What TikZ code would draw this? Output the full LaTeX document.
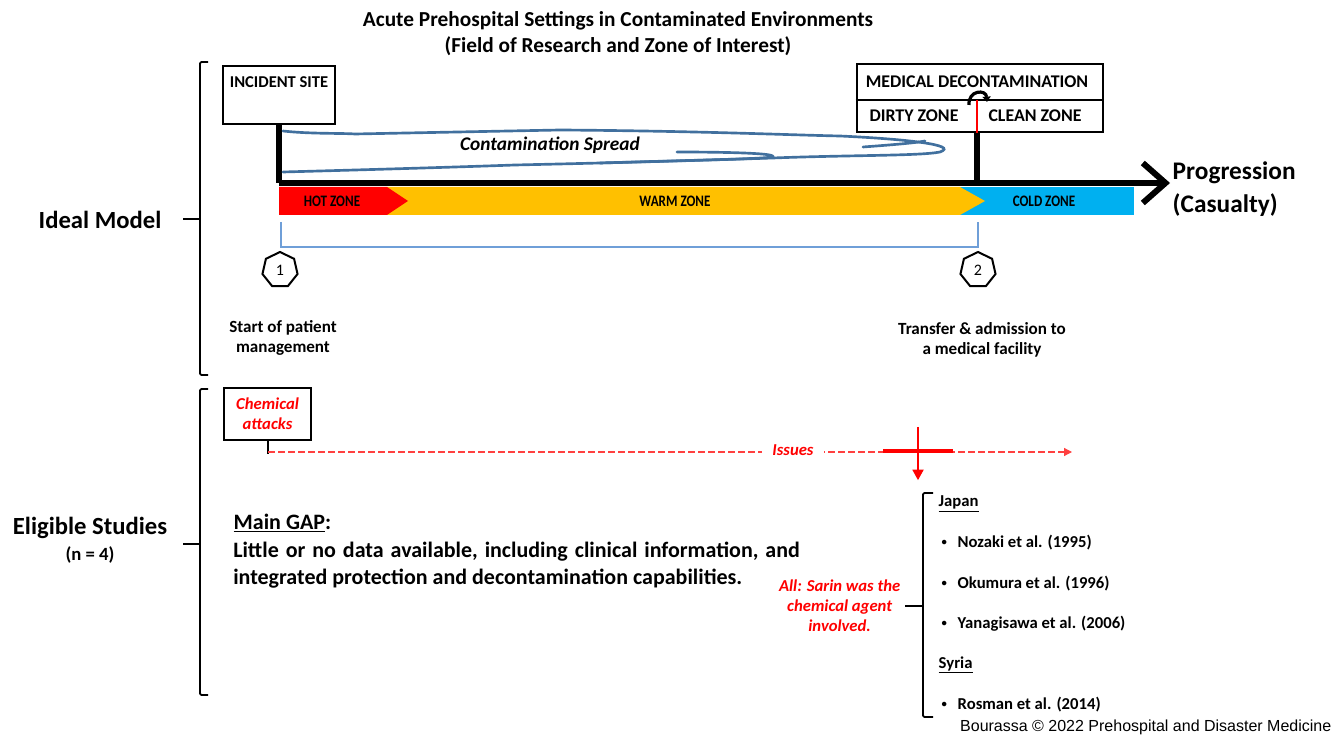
\documentclass[tikz,border=0pt]{standalone}
\usepackage{fontspec}
\setmainfont{Carlito}
\newfontfamily\arialfont{Liberation Sans}
\usetikzlibrary{arrows.meta,shapes.geometric,positioning}
\definecolor{hotred}{HTML}{FF0000}
\definecolor{warmorange}{HTML}{FFC000}
\definecolor{coldblue}{HTML}{00B0F0}
\definecolor{spreadblue}{HTML}{41709E}
\definecolor{spanblue}{HTML}{6F9FD8}
\newcommand\itembullet{\raisebox{1.5pt}{\fontsize{8}{9}\selectfont\textbullet}\hspace{8pt}}
\newcommand\zonelabel[1]{\scalebox{0.82}[1]{#1}}
\tikzset{
	brace/.style={line width=1.3pt,rounded corners=1pt},
	framebox/.style={draw,line width=1.5pt},
	axis/.style={line width=4.5pt},
	zonetext/.style={font=\bfseries\fontsize{12}{13}\selectfont},
	hepta/.style={draw,line width=1.5pt,regular polygon,regular polygon sides=7,minimum size=27pt,inner sep=0pt,font=\fontsize{12}{13}\selectfont},
	caption/.style={align=center,font=\bfseries\fontsize{12.8}{15}\selectfont},
	redtext/.style={text=hotred,font=\bfseries\itshape\fontsize{12.5}{15}\selectfont},
	study/.style={anchor=west,font=\bfseries\fontsize{12.5}{14}\selectfont},
	spread/.style={spreadblue,line width=2pt,line cap=round}
}
\begin{document}
\begin{tikzpicture}[x=0.75pt,y=-0.75pt]
	\fill[white] (0,0) rectangle (1343,737);
	\useasboundingbox (0,0) rectangle (1343,737);
	\node[align=center,font=\bfseries\fontsize{16}{19.5}\selectfont] (title) at (618,34) {Acute Prehospital Settings in Contaminated Environments\\(Field of Research and Zone of Interest)};
	\node[anchor=east,font=\bfseries\fontsize{18.5}{21}\selectfont] (ideal) at (166,220) {Ideal Model};
	\draw[brace] (208,62) -- (200,62) -- (200,375) -- (208,375);
	\draw[brace] (200,219) -- (183,219);
	\fill[coldblue] (960,187) rectangle (1134,215);
	\fill[warmorange] (387,187) -- (960,187) -- (985,201) -- (960,215) -- (387,215) -- cycle;
	\fill[hotred] (279,187) -- (387,187) -- (408,201) -- (387,215) -- (279,215) -- cycle;
	\node[zonetext] (hot) at (332,201) {\zonelabel{HOT ZONE}};
	\node[zonetext] (warm) at (675,201) {\zonelabel{WARM ZONE}};
	\node[zonetext] (cold) at (1044,201) {\zonelabel{COLD ZONE}};
	\coordinate (axisL) at (279,183);
	\coordinate (axisR) at (1170,183);
	\draw[axis,-{Straight Barb[length=17pt,width=30pt]}] (axisL) -- (axisR);
	\node[framebox,minimum width=84pt,minimum height=43.5pt] (site) at (279,95) {};
	\node[font=\bfseries\fontsize{12.4}{14}\selectfont,below=5pt of site.north] (sitetext) {INCIDENT SITE};
	\draw[axis] (site.south) -- (site.south |- axisL);
	\node[framebox,minimum width=185pt,minimum height=51pt] (decon) at (980,98) {};
	\draw[line width=1pt] (decon.west |- 0,100) -- (decon.east |- 0,100);
	\node[font=\bfseries\fontsize{13.4}{15}\selectfont] (decontext) at (977,82) {MEDICAL DECONTAMINATION};
	\node[font=\bfseries\fontsize{13.4}{15}\selectfont] (dirty) at (914,116) {DIRTY ZONE};
	\node[font=\bfseries\fontsize{13.4}{15}\selectfont] (clean) at (1035,116) {CLEAN ZONE};
	\coordinate (gate) at (977,100);
	\draw[hotred,line width=1.2pt] (gate) -- (gate |- decon.south);
	\draw[axis] (gate |- decon.south) -- (gate |- axisL);
	\draw[line width=2.4pt,-{Triangle[length=4pt,width=6pt]}] (969,105) .. controls (968,90) and (986,89) .. (987,102);
	\node[anchor=west,align=left,font=\bfseries\fontsize{19}{24.75}\selectfont] (prog) at (1168,189) {Progression\\(Casualty)};
	\draw[spread] (283,131) .. controls (310,134) and (340,133) .. (355,134) -- (560,130) .. controls (700,131) and (790,135) .. (840,136) .. controls (905,139) and (960,145) .. (940,152) .. controls (920,156) and (850,155) .. (773,158) .. controls (650,162) and (560,164) .. (515,165) .. controls (430,168) and (320,171) .. (283,172);
	\draw[spread] (600,163) .. controls (700,160) and (760,159) .. (772,157) .. controls (780,153) and (720,152) .. (677,152);
	\draw[spread] (863,147) .. controls (890,145) and (915,143) .. (925,141);
	\node[font=\bfseries\itshape\fontsize{14.5}{16}\selectfont] (spreadtext) at (550,145) {Contamination Spread};
	\draw[spanblue,line width=1pt] (281,222) -- (281,247) -- (978,247) -- (978,222);
	\node[hepta] (stepA) at (280,270) {1};
	\node[hepta] (stepB) at (978,270) {2};
	\node[caption] (start) at (283,338) {Start of patient\\management};
	\node[caption] (transfer) at (982,340) {Transfer \& admission to\\a medical facility};
	\node[font=\bfseries\fontsize{18.5}{21}\selectfont] (eligible) at (90,528) {Eligible Studies};
	\node[font=\bfseries\fontsize{14}{16}\selectfont] (count) at (90,555) {(n = 4)};
	\draw[brace] (208,389) -- (200,389) -- (200,695) -- (208,695);
	\draw[brace] (200,544) -- (183,544);
	\node[framebox,line width=1.2pt,minimum width=65pt,minimum height=39pt] (chem) at (267.5,414) {};
	\node[redtext,align=center] (chemtext) at (chem) {Chemical\\attacks};
	\coordinate (stem) at (268,452);
	\draw[line width=2pt] (chem.south -| stem) -- ([yshift=-1.5pt]stem);
	\coordinate (issuesend) at (1072,452);
	\draw[hotred!75,line width=0.9pt,dash pattern=on 5pt off 2.5pt,-{Triangle[length=6pt,width=6pt]}] (stem) -- (issuesend);
	\node[redtext,fill=white,inner xsep=8pt] (issues) at (793,450) {Issues};
	\coordinate (cross) at (918,451);
	\draw[hotred,line width=2.4pt] ([xshift=-26pt]cross) -- ([xshift=26pt]cross);
	\draw[hotred,line width=2pt,-{Triangle[length=8pt,width=8pt]}] ([yshift=18pt]cross) -- ([yshift=-22pt]cross);
	\node[anchor=west,font=\bfseries\fontsize{16.5}{20.25}\selectfont] (gap) at (229,523) {\underline{Main GAP}:};
	\node[anchor=north west,align=left,inner sep=0pt,font=\bfseries\fontsize{16.5}{20.25}\selectfont] (gaptext) at (233,542) {\spaceskip=5.2pt\relax Little or no data available, including clinical information, and\\integrated protection and decontamination capabilities.};
	\draw[brace] (933,493) -- (923,493) -- (923,717) -- (933,717);
	\coordinate (bracetip) at (905,606);
	\draw[brace] (923,606) -- (bracetip);
	\node[redtext,align=center,left=0pt of bracetip] (sarin) {All: Sarin was the\\chemical agent\\involved.};
	\node[study] (japan) at (934,504) {\underline{Japan}};
	\node[study] (nozaki) at (937,543) {\itembullet Nozaki et al. (1995)};
	\node[study] (okumura) at (937,584) {\itembullet Okumura et al. (1996)};
	\node[study] (yanagisawa) at (937,624) {\itembullet Yanagisawa et al. (2006)};
	\node[study] (syria) at (934,665) {\underline{Syria}};
	\node[study] (rosman) at (937,705) {\itembullet Rosman et al. (2014)};
	\node[anchor=east,font=\arialfont\fontsize{12}{14}\selectfont] (credit) at (1336,727) {Bourassa © 2022 Prehospital and Disaster Medicine};
\end{tikzpicture}
\end{document}
